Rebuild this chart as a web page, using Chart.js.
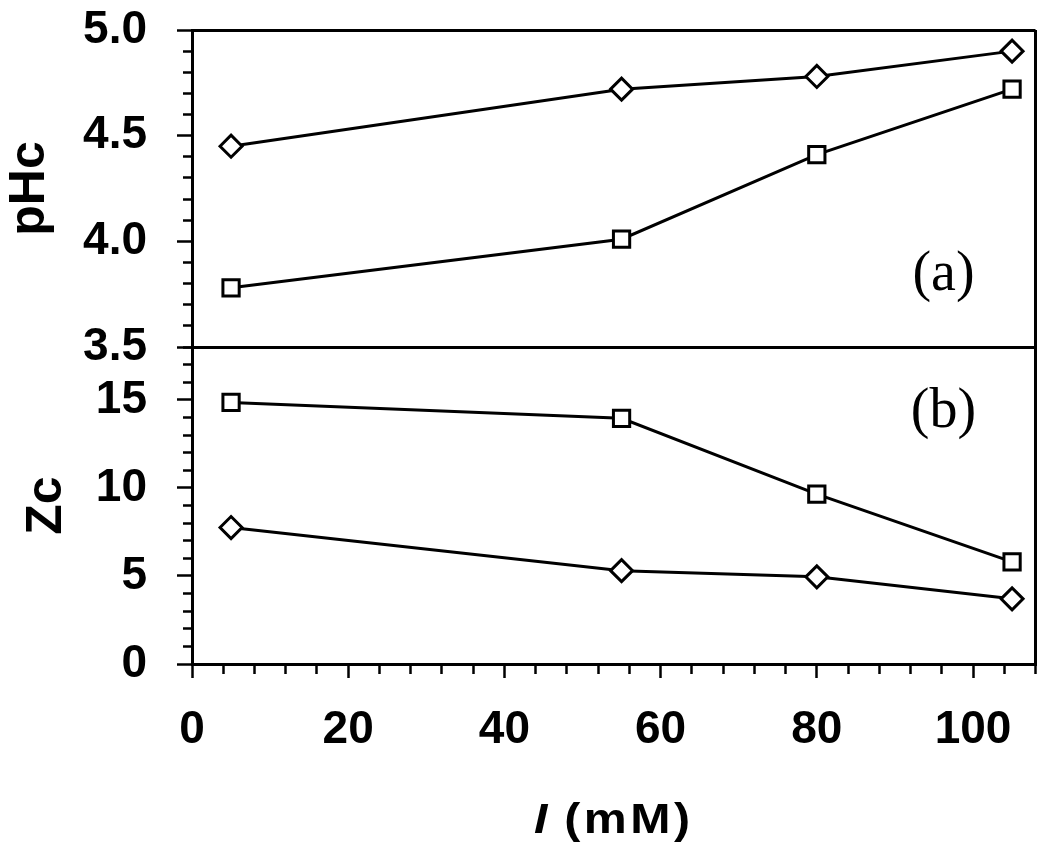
<!DOCTYPE html>
<html>
<head>
<meta charset="utf-8">
<script src="https://cdn.jsdelivr.net/npm/chart.js@4/dist/chart.umd.min.js"></script>
<style>
  html, body { margin: 0; padding: 0; background: #fff; }
  #wrap { width: 1050px; height: 851px; }
</style>
</head>
<body>
<div id="wrap"><canvas id="chart" width="1050" height="851"></canvas></div>
<script>
// DATA

const ionic_strength = [5, 55, 80, 105];          // I (mM)
const phc_diamond = [4.45, 4.72, 4.78, 4.90];
const phc_square = [3.78, 4.01, 4.41, 4.72];
const zc_square = [14.85, 13.95, 9.65, 5.8];
const zc_diamond = [7.75, 5.3, 4.95, 3.7];

// tick labels
const x_ticks = [0, 20, 40, 60, 80, 100];
const phc_ticks = ['3.5', '4.0', '4.5', '5.0'];
const zc_ticks = [0, 5, 10, 15];
const panel_labels = ['(a)', '(b)'];

//==================================
// HELPERS
//==================================

const FONT = 'Liberation Sans, Arial, sans-serif';

function points(ys) {
	return ionic_strength.map((x, i) => ({x: x, y: ys[i]}));
}

function isLabelled(list, v) {
	return list.some(t => Math.abs(Number(t) - v) < 1e-6);
}

// minor ticks are drawn shorter with a dash on the tick line
function leftTickDash(list) {
	return ctx => isLabelled(list, ctx.tick.value) ? [] : [0, 6, 9, 100];
}

function frameColor(edges) {
	return ctx => (ctx.tick && edges.some(e => Math.abs(e - ctx.tick.value) < 1e-6)) ? '#000' : 'rgba(0,0,0,0)';
}

// fixed box sizes, no extra label overhang padding
function fixBox(w, h) {
	return s => {
		if (w) s.width = w;
		if (h) s.height = h;
		s.paddingTop = 0;
		s.paddingBottom = 0;
		s.paddingLeft = 0;
		s.paddingRight = 0;
	};
}

const panelText = {
	id: 'panelText',
	afterDraw(chart) {
		const c = chart.ctx;
		const xs = chart.scales.x;
		const y1 = chart.scales.y1;
		const y2 = chart.scales.y2;
		const right = chart.chartArea.right;
		c.save();
		c.fillStyle = '#000';
		c.textAlign = 'center';
		c.textBaseline = 'alphabetic';
		c.font = '56px "Liberation Serif", "Times New Roman", serif';
		c.fillText(panel_labels[0], right - 92, y1.bottom - 57);
		c.fillText(panel_labels[1], right - 92, y2.top + 80);

		// x title: italic I, upright (mM)
		const cx = (chart.chartArea.left + right) / 2;
		const base = xs.bottom - 18;
		c.font = 'italic bold 42px ' + FONT;
		const wI = c.measureText('I').width;
		c.font = 'bold 42px ' + FONT;
		c.letterSpacing = '3px';
		const wRest = c.measureText(' (mM)').width;
		const sx = 1.15;
		const total = (wI + wRest) * sx;
		c.translate(cx - total / 2, base);
		c.scale(sx, 1);
		c.textAlign = 'left';
		c.letterSpacing = '0px';
		c.font = 'italic bold 42px ' + FONT;
		c.fillText('I', 0, 0);
		c.letterSpacing = '3px';
		c.font = 'bold 42px ' + FONT;
		c.fillText(' (mM)', wI, 0);
		c.restore();
	}
};

//==================================
// CHART
//==================================

const lineStyle = {
	borderColor: '#000',
	borderWidth: 3,
	pointBackgroundColor: '#fff',
	pointBorderColor: '#000',
	pointBorderWidth: 3,
	tension: 0,
	fill: false,
	clip: false,
};

const context = document.getElementById('chart').getContext('2d');

const chart = new Chart(context, {
	type: 'line',
	data: {
		datasets: [
			Object.assign({label: 'pHc diamond', data: points(phc_diamond), yAxisID: 'y1', pointStyle: 'rectRot', pointRadius: 11}, lineStyle),
			Object.assign({label: 'pHc square', data: points(phc_square), yAxisID: 'y1', pointStyle: 'rect', pointRadius: 11.5}, lineStyle),
			Object.assign({label: 'Zc square', data: points(zc_square), yAxisID: 'y2', pointStyle: 'rect', pointRadius: 11.5}, lineStyle),
			Object.assign({label: 'Zc diamond', data: points(zc_diamond), yAxisID: 'y2', pointStyle: 'rectRot', pointRadius: 11}, lineStyle),
		],
	},
	options: {
		responsive: false,
		animation: false,
		events: [],
		layout: { padding: { top: 30, right: 13, bottom: 0, left: 0 } },
		plugins: { legend: { display: false }, tooltip: { enabled: false } },
		scales: {
			x: {
				type: 'linear',
				position: 'bottom',
				min: 0,
				max: 108,
				afterFit: fixBox(0, 187),
				border: { display: true, color: '#000', width: 3 },
				grid: {
					color: frameColor([108]),
					lineWidth: 3,
					tickLength: 14,
					tickColor: '#000',
					tickWidth: 2.5,
					tickBorderDash: ctx => isLabelled(x_ticks, ctx.tick.value) ? [] : [8, 100],
				},
				ticks: {
					stepSize: 4,
					autoSkip: false,
					maxRotation: 0,
					padding: 25,
					color: '#000',
					font: { family: FONT, size: 46, weight: 'bold' },
					callback: v => isLabelled(x_ticks, v) ? String(v) : '',
				},
			},
			y2: {
				type: 'linear',
				position: 'left',
				stack: 'panels',
				stackWeight: 1,
				min: 0,
				max: 18,
				afterFit: fixBox(192, 0),
				border: { display: true, color: '#000', width: 3 },
				grid: {
					color: 'rgba(0,0,0,0)',
					tickLength: 15,
					tickColor: '#000',
					tickWidth: 2.5,
					tickBorderDash: leftTickDash(zc_ticks),
				},
				ticks: {
					stepSize: 1,
					autoSkip: false,
					padding: 30,
					color: '#000',
					font: { family: FONT, size: 46, weight: 'bold' },
					callback: v => isLabelled(zc_ticks, v) ? String(v) : '',
				},
				title: {
					display: true,
					text: 'Zc',
					color: '#000',
					padding: { top: 17, bottom: 0 },
					font: { family: FONT, size: 50, weight: 'bold' },
				},
			},
			y1: {
				type: 'linear',
				position: 'left',
				stack: 'panels',
				stackWeight: 1,
				min: 3.5,
				max: 5.0,
				afterFit: fixBox(192, 0),
				border: { display: true, color: '#000', width: 3 },
				grid: {
					color: frameColor([3.5, 5.0]),
					lineWidth: 3,
					tickLength: 15,
					tickColor: '#000',
					tickWidth: 2.5,
					tickBorderDash: leftTickDash(phc_ticks),
				},
				ticks: {
					stepSize: 0.1,
					autoSkip: false,
					padding: 30,
					color: '#000',
					font: { family: FONT, size: 46, weight: 'bold' },
					callback: v => isLabelled(phc_ticks, v) ? Number(v).toFixed(1) : '',
				},
				title: {
					display: true,
					text: 'pHc',
					color: '#000',
					padding: { top: 0, bottom: 0 },
					font: { family: FONT, size: 50, weight: 'bold' },
				},
			},
		},
	},
	plugins: [panelText],
});
</script>
</body>
</html>
